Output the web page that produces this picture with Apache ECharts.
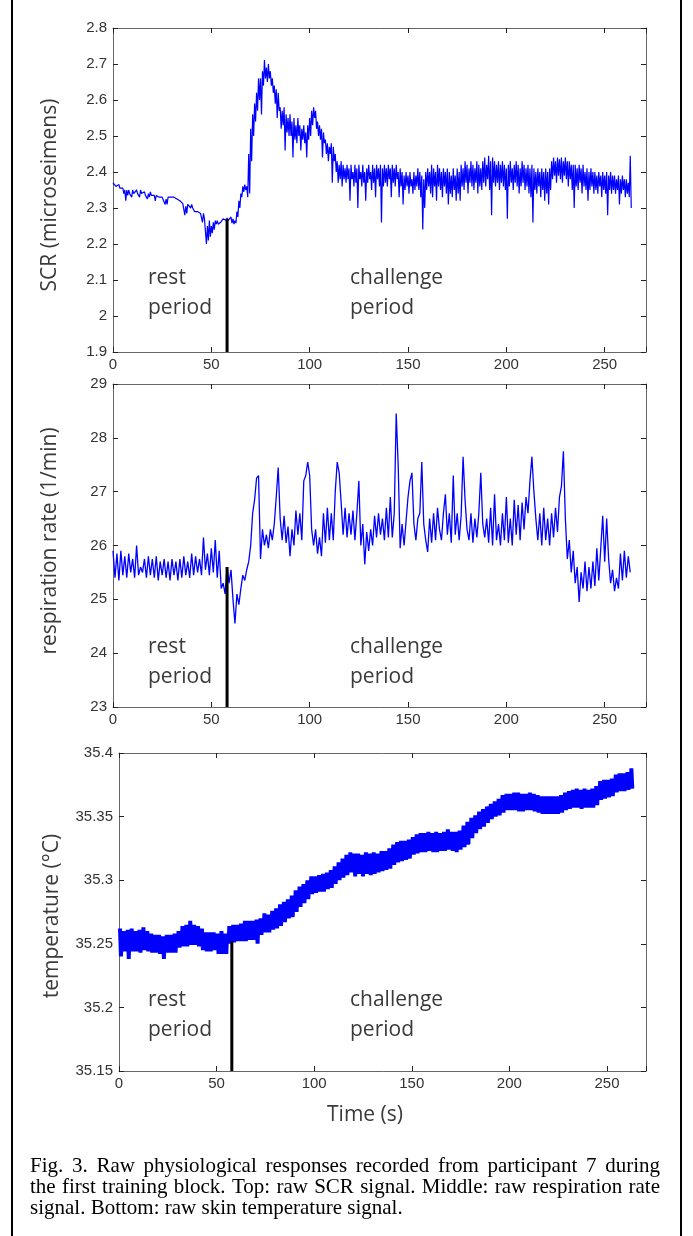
<!DOCTYPE html>
<html>
<head>
<meta charset="utf-8">
<script src="https://cdn.jsdelivr.net/npm/echarts@6/dist/echarts.min.js"></script>
<style>
html, body { margin: 0; padding: 0; background: #fff; }
#chart { width: 693px; height: 1236px; }
</style>
</head>
<body>
<div id="chart"></div>
<script>
// SCR (microsiemens), one high/low pair per second, t = 0..263 s
var scrHigh = [
  2.37,2.37,2.365,2.365,2.36,2.355,2.35,2.35,2.35,2.345,
  2.35,2.345,2.35,2.345,2.35,2.345,2.345,2.34,2.34,2.345,
  2.34,2.335,2.335,2.335,2.33,2.33,2.33,2.325,2.33,2.335,
  2.335,2.33,2.33,2.33,2.32,2.318,2.31,2.305,2.31,2.312,
  2.31,2.3,2.295,2.29,2.29,2.29,2.285,2.27,2.25,2.265,
  2.25,2.26,2.265,2.265,2.26,2.262,2.27,2.275,2.272,2.27,
  2.275,2.27,2.265,2.29,2.32,2.34,2.36,2.365,2.36,2.45,
  2.52,2.56,2.59,2.62,2.66,2.66,2.68,2.711,2.69,2.70,
  2.68,2.66,2.64,2.63,2.62,2.58,2.57,2.58,2.56,2.55,
  2.56,2.54,2.55,2.53,2.55,2.53,2.52,2.53,2.51,2.53,
  2.55,2.57,2.58,2.57,2.54,2.53,2.52,2.51,2.49,2.48,
  2.47,2.48,2.47,2.45,2.43,2.42,2.43,2.42,2.41,2.42,
  2.41,2.42,2.40,2.42,2.41,2.42,2.40,2.42,2.40,2.41,
  2.42,2.40,2.42,2.41,2.42,2.41,2.42,2.41,2.42,2.41,
  2.42,2.41,2.42,2.41,2.42,2.40,2.41,2.40,2.39,2.40,
  2.39,2.40,2.38,2.40,2.39,2.41,2.40,2.39,2.38,2.40,
  2.41,2.40,2.42,2.41,2.40,2.42,2.41,2.40,2.41,2.40,
  2.41,2.40,2.39,2.41,2.39,2.41,2.40,2.42,2.41,2.43,
  2.42,2.41,2.43,2.42,2.41,2.43,2.42,2.41,2.43,2.44,
  2.42,2.445,2.43,2.44,2.43,2.42,2.43,2.42,2.43,2.42,
  2.41,2.42,2.43,2.41,2.42,2.43,2.42,2.41,2.43,2.42,
  2.41,2.42,2.41,2.42,2.41,2.40,2.41,2.40,2.41,2.40,
  2.41,2.40,2.41,2.43,2.44,2.43,2.44,2.435,2.44,2.43,
  2.44,2.43,2.43,2.42,2.42,2.42,2.41,2.42,2.41,2.42,
  2.40,2.41,2.40,2.41,2.40,2.40,2.39,2.40,2.39,2.40,
  2.39,2.40,2.39,2.40,2.39,2.39,2.38,2.39,2.38,2.39,
  2.38,2.38,2.37,2.445
];
var scrLow = [
  2.365,2.36,2.36,2.355,2.355,2.34,2.32,2.335,2.34,2.33,
  2.34,2.335,2.34,2.33,2.34,2.335,2.335,2.325,2.33,2.335,
  2.33,2.32,2.33,2.33,2.325,2.325,2.31,2.31,2.325,2.33,
  2.33,2.325,2.325,2.32,2.315,2.312,2.28,2.285,2.305,2.30,
  2.30,2.29,2.285,2.285,2.285,2.26,2.27,2.2,2.21,2.22,
  2.23,2.24,2.255,2.255,2.255,2.258,2.265,2.265,2.265,2.26,
  2.258,2.255,2.258,2.275,2.30,2.33,2.345,2.35,2.33,2.34,
  2.43,2.50,2.54,2.57,2.60,2.56,2.64,2.66,2.65,2.66,
  2.64,2.62,2.59,2.55,2.57,2.52,2.53,2.46,2.51,2.50,
  2.50,2.44,2.49,2.48,2.50,2.46,2.49,2.48,2.44,2.49,
  2.50,2.53,2.55,2.52,2.50,2.49,2.44,2.48,2.45,2.43,
  2.45,2.37,2.43,2.40,2.37,2.38,2.36,2.38,2.37,2.38,
  2.32,2.38,2.36,2.37,2.30,2.38,2.36,2.37,2.32,2.37,
  2.38,2.35,2.37,2.33,2.38,2.36,2.26,2.36,2.37,2.36,
  2.38,2.33,2.37,2.36,2.38,2.33,2.36,2.31,2.35,2.36,
  2.34,2.36,2.34,2.35,2.36,2.35,2.33,2.24,2.30,2.35,
  2.36,2.34,2.33,2.36,2.32,2.36,2.35,2.33,2.36,2.34,
  2.31,2.34,2.33,2.35,2.32,2.34,2.32,2.36,2.35,2.37,
  2.34,2.37,2.36,2.35,2.37,2.34,2.36,2.35,2.37,2.36,
  2.38,2.35,2.28,2.37,2.36,2.37,2.35,2.37,2.36,2.35,
  2.27,2.36,2.37,2.35,2.37,2.36,2.34,2.36,2.37,2.35,
  2.36,2.34,2.33,2.26,2.35,2.34,2.36,2.33,2.35,2.32,
  2.34,2.31,2.35,2.38,2.39,2.37,2.39,2.38,2.37,2.39,
  2.38,2.36,2.38,2.35,2.30,2.36,2.35,2.37,2.34,2.36,
  2.35,2.32,2.35,2.36,2.34,2.35,2.34,2.36,2.33,2.35,
  2.34,2.28,2.35,2.34,2.35,2.34,2.35,2.31,2.34,2.35,
  2.33,2.34,2.33,2.30
];

// respiration rate (1/min), one value per second, t = 0..263 s
var respRate = [
  25.9,25.4,25.85,25.35,25.9,25.45,25.8,25.4,25.85,25.5,
  25.75,25.4,26.0,25.45,25.6,25.5,25.75,25.4,25.8,25.45,
  25.75,25.4,25.8,25.35,25.7,25.45,25.75,25.4,25.7,25.35,
  25.75,25.45,25.7,25.35,25.75,25.4,25.8,25.45,25.7,25.4,
  25.85,25.45,25.8,25.5,25.75,25.45,26.15,25.55,25.85,25.45,
  25.95,25.5,26.1,25.4,25.9,25.2,25.3,25.1,25.6,25.3,
  25.55,25.0,24.55,25.1,24.9,25.2,25.45,25.35,25.55,25.7,
  26.0,26.6,26.85,27.25,27.3,25.75,26.3,26.0,26.2,25.95,
  26.3,26.1,26.4,26.9,27.45,26.5,26.1,26.55,26.05,26.35,
  25.8,26.3,26.0,26.65,26.2,26.6,26.1,27.2,27.3,27.55,
  27.3,26.3,26.0,26.3,25.85,26.15,25.8,26.6,26.05,26.7,
  26.1,26.6,26.1,27.0,27.55,27.35,26.8,26.2,26.7,26.15,
  26.6,26.2,26.65,26.1,26.6,27.2,26.0,26.4,25.65,26.25,
  25.9,26.3,26.0,26.55,26.15,26.6,26.2,26.5,26.1,26.7,
  26.15,26.9,26.15,26.6,28.45,27.5,25.95,26.4,26.0,26.45,
  26.9,27.2,27.35,26.4,26.1,26.5,26.6,27.55,26.4,26.1,
  25.88,26.5,26.05,26.6,26.1,26.7,26.3,26.1,26.6,26.95,
  26.2,26.6,26.05,27.3,26.2,26.6,26.1,26.55,27.65,26.85,
  26.3,26.1,26.6,26.05,26.5,26.15,26.6,27.35,26.4,26.15,
  26.5,26.05,26.7,26.0,26.95,26.1,26.4,26.0,26.6,26.1,
  26.9,26.05,26.5,26.0,26.85,26.2,26.75,26.1,26.8,26.3,
  26.9,26.6,27.2,27.65,27.0,26.5,26.1,26.6,26.0,26.7,
  26.1,26.5,26.0,26.6,26.15,26.7,26.25,26.9,27.1,27.75,
  26.5,25.75,26.1,25.5,25.9,25.3,25.6,24.95,25.5,25.2,
  25.7,25.15,25.6,25.2,25.7,25.25,25.95,25.35,25.95,26.55,
  25.7,26.5,25.75,25.3,25.55,25.15,25.4,25.2,25.85,25.35,
  25.9,25.4,25.8,25.5
];

// skin temperature (deg C), high/low pair per 2 s, t = 0..262 s
var tempStep = 2;
var tempHigh = [
  35.262,35.260,35.261,35.262,35.260,35.261,35.263,35.260,35.258,35.257,
  35.257,35.256,35.257,35.257,35.258,35.260,35.264,35.265,35.268,35.265,
  35.264,35.262,35.259,35.259,35.259,35.258,35.260,35.258,35.264,35.265,
  35.265,35.266,35.268,35.268,35.268,35.269,35.270,35.274,35.273,35.276,
  35.278,35.281,35.283,35.285,35.288,35.292,35.295,35.297,35.300,35.303,
  35.303,35.304,35.305,35.306,35.308,35.311,35.314,35.317,35.320,35.322,
  35.321,35.321,35.320,35.322,35.321,35.322,35.321,35.323,35.323,35.325,
  35.328,35.330,35.331,35.331,35.332,35.334,35.336,35.337,35.337,35.338,
  35.337,35.338,35.337,35.338,35.340,35.338,35.338,35.339,35.343,35.346,
  35.349,35.351,35.354,35.356,35.358,35.360,35.362,35.364,35.367,35.368,
  35.368,35.369,35.369,35.368,35.368,35.369,35.368,35.367,35.366,35.366,
  35.366,35.366,35.366,35.367,35.369,35.370,35.371,35.372,35.371,35.372,
  35.371,35.372,35.374,35.378,35.379,35.379,35.380,35.383,35.384,35.384,
  35.385,35.388
];
var tempLow = [
  35.240,35.244,35.238,35.244,35.244,35.243,35.245,35.244,35.243,35.243,
  35.242,35.238,35.243,35.243,35.243,35.247,35.248,35.248,35.249,35.249,
  35.248,35.245,35.244,35.244,35.245,35.242,35.242,35.242,35.250,35.251,
  35.252,35.252,35.252,35.253,35.253,35.250,35.257,35.259,35.259,35.261,
  35.262,35.264,35.267,35.270,35.271,35.275,35.279,35.282,35.285,35.289,
  35.290,35.291,35.291,35.293,35.294,35.297,35.300,35.302,35.304,35.306,
  35.303,35.305,35.303,35.305,35.304,35.305,35.306,35.307,35.308,35.309,
  35.312,35.314,35.315,35.316,35.317,35.320,35.321,35.322,35.322,35.323,
  35.322,35.322,35.323,35.323,35.324,35.323,35.322,35.324,35.326,35.328,
  35.333,35.337,35.340,35.342,35.345,35.348,35.350,35.351,35.353,35.355,
  35.355,35.355,35.354,35.354,35.355,35.355,35.354,35.353,35.352,35.352,
  35.352,35.352,35.352,35.353,35.355,35.356,35.357,35.357,35.356,35.357,
  35.357,35.357,35.359,35.363,35.364,35.365,35.366,35.369,35.370,35.370,
  35.371,35.372
];

// end of rest period (s) and height of the marker line in each panel
var restEnd = [58, 58, 57.8];
var restEndTop = [2.27, 25.6, 35.252];

// axis ranges
var yMin = [1.9, 23, 35.15];
var yMax = [2.8, 29, 35.4];
var yStep = [0.1, 1, 0.05];
var xMax = [271, 271, 270];
var xStep = 50;

var yNames = ['SCR (microseimens)', 'respiration rate (1/min)', 'temperature (\u00b0C)'];

var captionLines = [
  'Fig. 3. Raw physiological responses recorded from participant 7 during',
  'the first training block. Top: raw SCR signal. Middle: raw respiration rate',
  'signal. Bottom: raw skin temperature signal.'
];

// noisy signals drawn as a high/low zigzag
function zigzag(hi, lo, step) {
  var pts = [];
  for (var i = 0; i < hi.length; i++) {
    for (var k = 0; k < step; k++) {
      pts.push([i * step + k, hi[i]]);
      pts.push([i * step + k + 0.5, lo[i]]);
    }
  }
  return pts;
}

var grids = [
  { left: 113, top: 28, width: 533, height: 324 },
  { left: 113, top: 384, width: 533, height: 323 },
  { left: 119, top: 753, width: 527, height: 318 }
];

var tickFont = '"Liberation Sans", Arial, sans-serif';
var textFont = '"Open Sans", sans-serif';

var xAxes = [], yAxes = [];
grids.forEach(function (g, i) {
  ['bottom', 'top'].forEach(function (pos) {
    xAxes.push({
      type: 'value', gridIndex: i, position: pos, min: 0, max: xMax[i], interval: xStep,
      axisLine: { show: true, onZero: false, lineStyle: { color: '#666', width: 1 } },
      axisTick: { show: true, inside: true, length: 5, lineStyle: { color: '#222' } },
      axisLabel: {
        show: pos === 'bottom', margin: 5, color: '#333', fontSize: 15, fontFamily: tickFont,
        formatter: function (v) { return v % xStep === 0 ? String(v) : ''; }
      },
      splitLine: { show: false }
    });
  });
  ['left', 'right'].forEach(function (pos) {
    yAxes.push({
      type: 'value', gridIndex: i, position: pos, min: yMin[i], max: yMax[i], interval: yStep[i],
      axisLine: { show: true, onZero: false, lineStyle: { color: '#666', width: 1 } },
      axisTick: { show: true, inside: true, length: 5, lineStyle: { color: '#222' } },
      axisLabel: {
        show: pos === 'left', margin: 6, color: '#333', fontSize: 15, fontFamily: tickFont,
        formatter: function (v) { return String(+v.toFixed(2)); }
      },
      splitLine: { show: false }
    });
  });
});

var signals = [
  zigzag(scrHigh, scrLow, 1),
  respRate.map(function (v, t) { return [t, v]; }),
  zigzag(tempHigh, tempLow, tempStep)
];
var lineWidths = [1.2, 1.3, 2];

var series = [];
signals.forEach(function (data, i) {
  series.push({
    type: 'line', xAxisIndex: i * 2, yAxisIndex: i * 2, data: data,
    showSymbol: false, symbol: 'none', silent: true,
    lineStyle: { color: '#0000ff', width: lineWidths[i] }
  });
  series.push({
    type: 'line', xAxisIndex: i * 2, yAxisIndex: i * 2,
    data: [[restEnd[i], yMin[i]], [restEnd[i], restEndTop[i]]],
    showSymbol: false, symbol: 'none', silent: true,
    lineStyle: { color: '#000', width: 3 }, z: 3
  });
});

var graphic = [];
// outer frame
[12, 681].forEach(function (x) {
  graphic.push({ type: 'line', shape: { x1: x, y1: 0, x2: x, y2: 1236 }, style: { stroke: '#000', lineWidth: 2 } });
});
// y axis titles
var yNamePos = [[50, 195], [50, 541], [52, 916]];
yNames.forEach(function (n, i) {
  graphic.push({
    type: 'text', x: yNamePos[i][0], y: yNamePos[i][1], rotation: Math.PI / 2,
    style: { text: n, fontSize: 21, fontFamily: textFont, fill: '#3a3a3a', align: 'center', verticalAlign: 'middle' }
  });
});
// period annotations
var annoTop = [263, 632, 985];
annoTop.forEach(function (y) {
  graphic.push({ type: 'text', x: 148, y: y,
    style: { text: 'rest\nperiod', fontSize: 21, lineHeight: 30, fontFamily: textFont, fill: '#3a3a3a', align: 'left', verticalAlign: 'top' } });
  graphic.push({ type: 'text', x: 350, y: y,
    style: { text: 'challenge\nperiod', fontSize: 21, lineHeight: 30, fontFamily: textFont, fill: '#3a3a3a', align: 'left', verticalAlign: 'top' } });
});
// x axis title
graphic.push({ type: 'text', x: 365, y: 1115,
  style: { text: 'Time (s)', fontSize: 21, fontFamily: textFont, fill: '#3a3a3a', align: 'center', verticalAlign: 'middle' } });

// caption, justified like the printed figure
var capLeft = 30, capRight = 660, capTop = 1166, capLineH = 21;
var capSize = 21, capFamily = '"Liberation Serif", "Times New Roman", serif';
var ctx = document.createElement('canvas').getContext('2d');
ctx.font = capSize + 'px ' + capFamily;
captionLines.forEach(function (line, li) {
  var words = line.split(' ');
  var widths = words.map(function (w) { return ctx.measureText(w).width; });
  var total = widths.reduce(function (s, w) { return s + w; }, 0);
  var gap = li < captionLines.length - 1 ? (capRight - capLeft - total) / (words.length - 1) : ctx.measureText(' ').width;
  var x = capLeft;
  words.forEach(function (w, wi) {
    graphic.push({ type: 'text', x: x, y: capTop + li * capLineH,
      style: { text: w, fontSize: capSize, fontFamily: capFamily, fill: '#000', align: 'left', verticalAlign: 'middle' } });
    x += widths[wi] + gap;
  });
});

var myChart = echarts.init(document.getElementById('chart'), null, { renderer: 'canvas' });
myChart.setOption({
  animation: false,
  backgroundColor: '#fff',
  grid: grids,
  xAxis: xAxes,
  yAxis: yAxes,
  series: series,
  graphic: graphic
});
</script>
</body>
</html>
